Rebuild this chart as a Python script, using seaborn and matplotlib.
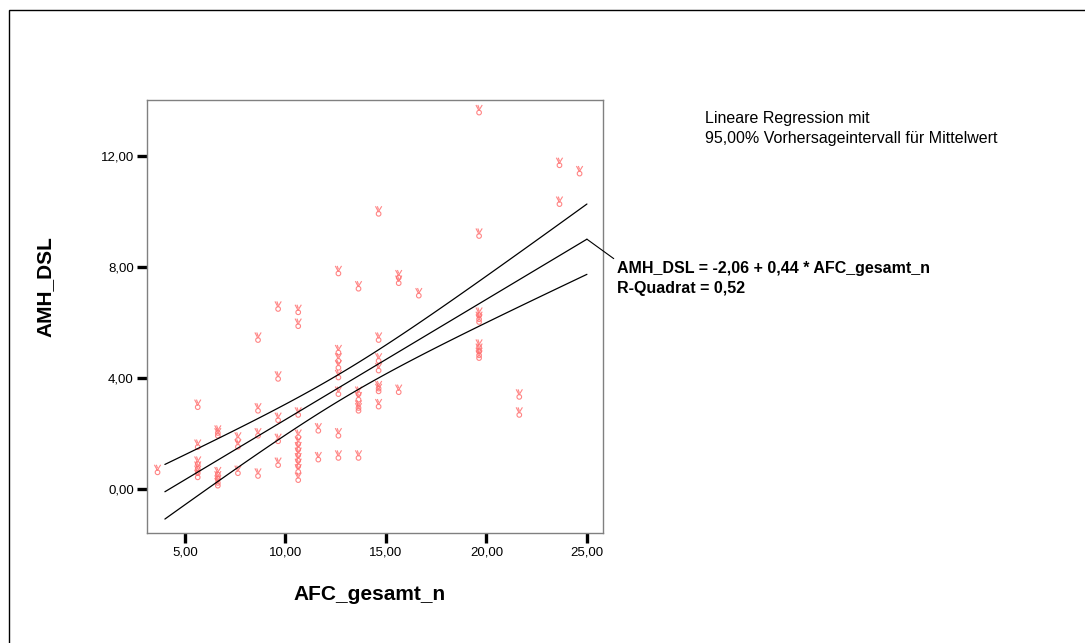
import numpy as np
import pandas as pd
import matplotlib
matplotlib.use("Agg")
import matplotlib.pyplot as plt
import seaborn as sns
from matplotlib.path import Path
from matplotlib.patches import Rectangle
from matplotlib.ticker import FuncFormatter

# Data (AFC count, AMH value)
afc = ([4]
       + [6] * 6
       + [7] * 6
       + [8] * 3
       + [9] * 4
       + [10] * 5
       + [11] * 11
       + [12] * 2
       + [13] * 8
       + [14] * 6
       + [15] * 7
       + [16] * 3
       + [17]
       + [20] * 9
       + [22] * 2
       + [24] * 2
       + [25])
amh = ([0.68]
       + [3.03, 1.59, 0.98, 0.80, 0.65, 0.50]
       + [2.10, 2.00, 0.60, 0.45, 0.30, 0.20]
       + [1.85, 1.60, 0.65]
       + [5.45, 2.90, 2.00, 0.55]
       + [6.57, 4.05, 2.56, 1.80, 0.94]
       + [6.45, 5.95, 2.75, 1.95, 1.70, 1.50, 1.30, 1.10, 0.90, 0.70, 0.40]
       + [2.18, 1.14]
       + [7.85, 5.00, 4.70, 4.45, 4.10, 3.50, 2.00, 1.20]
       + [7.30, 3.50, 3.30, 3.00, 2.90, 1.20]
       + [10.00, 5.45, 4.70, 4.35, 3.70, 3.60, 3.05]
       + [7.70, 7.50, 3.57]
       + [7.05]
       + [13.65, 9.20, 6.35, 6.20, 6.10, 5.20, 5.05, 4.90, 4.80]
       + [3.40, 2.75]
       + [11.75, 10.35]
       + [11.45])

x_ticks = [5, 10, 15, 20, 25]
y_ticks = [0, 4, 8, 12]
t_crit = 1.99  # t(0.975, n-2)

legend_text = "Lineare Regression mit\n95,00% Vorhersageintervall für Mittelwert"
fit_text = "AMH_DSL = -2,06 + 0,44 * AFC_gesamt_n\nR-Quadrat = 0,52"

df = pd.DataFrame({"AFC_gesamt_n": afc, "AMH_DSL": amh})

# Regression line with 95% interval for the mean
slope, intercept = np.polyfit(df["AFC_gesamt_n"], df["AMH_DSL"], 1)
n = len(df)
xbar = df["AFC_gesamt_n"].mean()
sxx = ((df["AFC_gesamt_n"] - xbar) ** 2).sum()
resid = df["AMH_DSL"] - (intercept + slope * df["AFC_gesamt_n"])
s = np.sqrt((resid ** 2).sum() / (n - 2))
xs = np.linspace(df["AFC_gesamt_n"].min(), df["AFC_gesamt_n"].max(), 120)
fit = intercept + slope * xs
se = s * np.sqrt(1 / n + (xs - xbar) ** 2 / sxx)
lines = pd.DataFrame({"x": np.concatenate([xs, xs, xs]),
                      "y": np.concatenate([fit + t_crit * se, fit, fit - t_crit * se]),
                      "kind": ["upper"] * len(xs) + ["fit"] * len(xs) + ["lower"] * len(xs)})

# SPSS-like "victory hand" glyph, drawn to the left of its anchor
dx = -0.7
ring = Path.circle((dx, -0.22), 0.22)
vee = Path([(dx - 0.3, 0.5), (dx - 0.02, -0.02), (dx + 0.3, 0.5),
            (dx - 0.12, 0.5), (dx, 0.18)],
           [Path.MOVETO, Path.LINETO, Path.LINETO, Path.MOVETO, Path.LINETO])
glyph = Path.make_compound_path(ring, vee)
max_abs = np.max(np.abs(glyph.vertices))
msize = 2 * max_abs * (10.5 * 0.72)

sns.set_style("white")
plt.rcParams["font.family"] = ["Liberation Sans", "DejaVu Sans"]
plt.rcParams["text.color"] = "black"
plt.rcParams["xtick.color"] = "black"
plt.rcParams["ytick.color"] = "black"
plt.rcParams["axes.labelcolor"] = "black"

fig = plt.figure(figsize=(10.85, 6.43), dpi=100)
ax = fig.add_axes([147 / 1085, 1 - 533 / 643, 456 / 1085, 433 / 643])

sns.scatterplot(data=df, x="AFC_gesamt_n", y="AMH_DSL", marker=glyph, s=msize ** 2,
                facecolor="none", edgecolor="#ff7070", linewidth=0.8, alpha=0.85,
                ax=ax, zorder=2)
sns.lineplot(data=lines, x="x", y="y", units="kind", estimator=None, color="black",
             linewidth=0.9, ax=ax, zorder=3)

ax.set_xlim(3.11, 25.8)
ax.set_ylim(-1.59, 14.02)
ax.set_xticks(x_ticks)
ax.set_yticks(y_ticks)
fmt = FuncFormatter(lambda v, p: f"{v:.2f}".replace(".", ","))
ax.xaxis.set_major_formatter(fmt)
ax.yaxis.set_major_formatter(fmt)
ax.tick_params(axis="both", direction="out", length=7, width=2.4, color="black",
               labelsize=9.5, pad=2.5, bottom=True, left=True, labelcolor="black")
for sp in ax.spines.values():
    sp.set_color("#808080")
    sp.set_linewidth(1.0)

ax.set_xlabel("AFC_gesamt_n", fontsize=15, fontweight="bold")
ax.set_ylabel("AMH_DSL", fontsize=15, fontweight="bold")
ax.xaxis.set_label_coords(0.487, -0.12)
ax.yaxis.set_label_coords(-0.202, 0.57)

ax.annotate(fit_text, xy=(xs[-1], fit[-1]), xycoords="data",
            xytext=(617, 643 - 261), textcoords="figure pixels",
            ha="left", va="top", fontsize=11.5, fontweight="bold",
            annotation_clip=False, linespacing=1.4,
            arrowprops=dict(arrowstyle="-", color="black", lw=0.8,
                            relpos=(0, 1), shrinkA=0, shrinkB=0))

fig.text(705 / 1085, 1 - 111 / 643, legend_text, ha="left", va="top",
         fontsize=11.5, linespacing=1.4)

# outer frame
fig.patches.append(Rectangle((9 / 1085, -0.1), 1.2, 1 - 10 / 643 + 0.1,
                             transform=fig.transFigure, fill=False,
                             edgecolor="black", linewidth=1.0))

fig.savefig("out.png", dpi=100)
